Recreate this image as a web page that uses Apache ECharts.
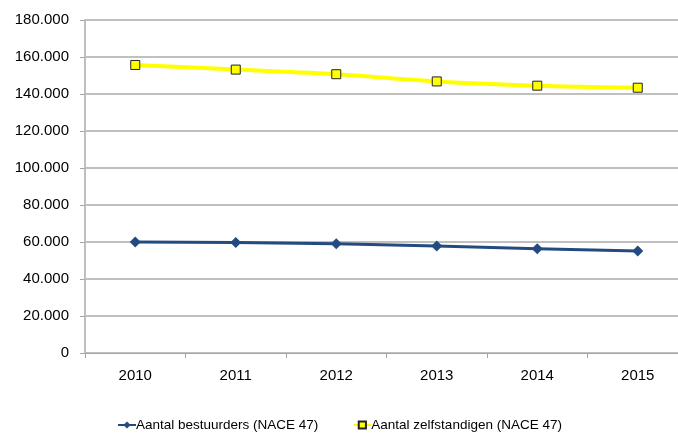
<!DOCTYPE html>
<html>
<head>
<meta charset="utf-8">
<script src="https://cdn.jsdelivr.net/npm/echarts@6/dist/echarts.min.js"></script>
<style>html,body{margin:0;padding:0;background:#fff;overflow:hidden;width:678px;height:434px}#c{width:700px;height:434px}</style>
</head>
<body>
<div id="c"></div>
<script>
const categories = ['2010', '2011', '2012', '2013', '2014', '2015'];
const bestuurders = [60000, 59700, 59100, 57800, 56400, 55100];
const zelfstandigen = [155700, 153200, 150700, 146800, 144500, 143400];
const seriesNames = ['Aantal bestuurders (NACE 47)', 'Aantal zelfstandigen (NACE 47)'];
const yTicks = { min: 0, max: 180000, interval: 20000 };

function fmt(v) {
  return String(v).replace(/\B(?=(\d{3})+(?!\d))/g, '.');
}

const chart = echarts.init(document.getElementById('c'), null, { renderer: 'canvas' });
const font = '"Liberation Sans", Arial, sans-serif';
chart.setOption({
  animation: false,
  backgroundColor: '#ffffff',
  grid: { left: 85, top: 20, width: 603, bottom: 81, containLabel: false },
  legend: {
    top: 418,
    left: 117,
    padding: 0,
    itemGap: 34,
    itemWidth: 18,
    itemHeight: 9,
    textStyle: { fontFamily: font, fontSize: 13.5, color: '#000', padding: [0, 0, 0, -5] },
    data: seriesNames
  },
  xAxis: {
    type: 'category',
    data: categories,
    boundaryGap: true,
    axisLine: { lineStyle: { color: '#a6a6a6', width: 1 } },
    axisTick: { show: true, length: 5, lineStyle: { color: '#a6a6a6' } },
    axisLabel: { fontFamily: font, fontSize: 15, color: '#000', margin: 15 },
    splitLine: { show: false }
  },
  yAxis: {
    type: 'value',
    min: yTicks.min, max: yTicks.max, interval: yTicks.interval,
    axisLine: { show: true, lineStyle: { color: '#bfbfbf', width: 2 } },
    axisTick: { show: true, length: 5, lineStyle: { color: '#a6a6a6' } },
    axisLabel: { fontFamily: font, fontSize: 15, color: '#000', margin: 16, formatter: fmt },
    splitLine: { show: true, lineStyle: { color: '#c0c0c0', width: 2 } }
  },
  series: [
    {
      name: seriesNames[0],
      type: 'line',
      data: bestuurders,
      symbol: 'diamond',
      symbolSize: 11,
      lineStyle: { color: '#244b80', width: 3 },
      itemStyle: { color: '#244b80', borderWidth: 0 }
    },
    {
      name: seriesNames[1],
      type: 'line',
      data: zelfstandigen,
      smooth: 0.3,
      symbol: 'rect',
      symbolSize: 9,
      lineStyle: { color: '#ffff00', width: 4 },
      itemStyle: { color: '#ffff00', borderColor: '#222', borderWidth: 1 }
    }
  ]
});
</script>
</body>
</html>
